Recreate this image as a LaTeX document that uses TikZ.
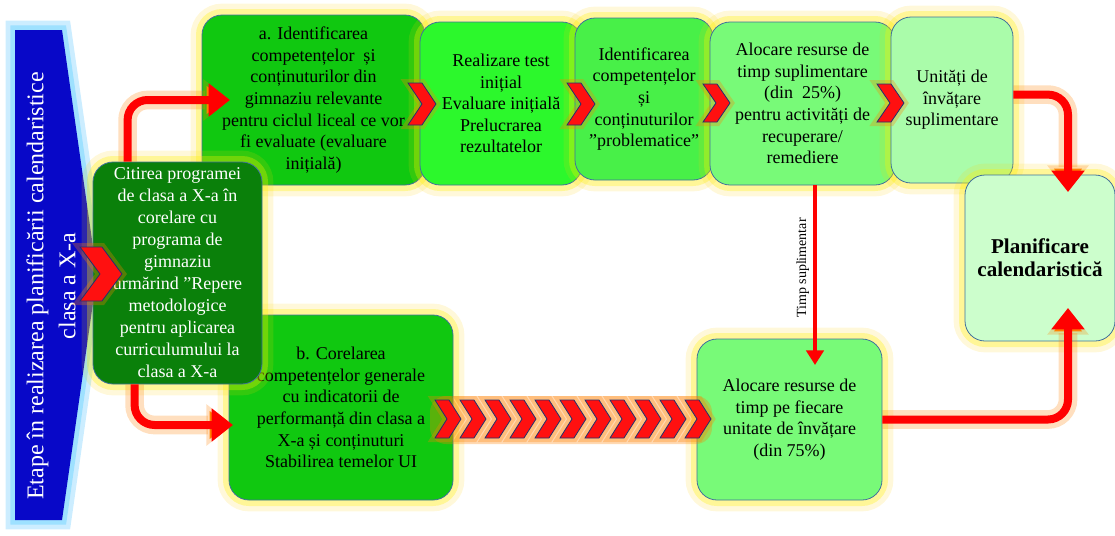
\documentclass[tikz,border=0pt]{standalone}
\usepackage{fontspec}
\setmainfont{Liberation Serif}
\usetikzlibrary{arrows.meta,calc}
\definecolor{cdark}{HTML}{0A800A}
\definecolor{ca}{HTML}{10C810}
\definecolor{creal}{HTML}{2CF82C}
\definecolor{cident}{HTML}{48F048}
\definecolor{caloc}{HTML}{78FA78}
\definecolor{cunit}{HTML}{AAFCAA}
\definecolor{cplan}{HTML}{CCFECC}
\definecolor{cblue}{HTML}{0808C8}
\definecolor{cedge}{HTML}{41719C}
\definecolor{cchev}{HTML}{FF1010}
\definecolor{cchevedge}{HTML}{203070}
\tikzset{
  glow/.style={preaction={draw=yellow!70!orange, draw opacity=0.15, line width=17pt},
               preaction={draw=yellow, draw opacity=0.3, line width=9pt}},
  box/.style={glow, draw=cedge, line width=0.6pt, rounded corners=15pt, align=center,
              inner sep=2pt, font=\fontsize{13.5}{16.2}\selectfont},
  bigarr/.style={draw=red, line width=6pt, rounded corners=15pt,
                 -{Triangle[width=24pt,length=16pt]},
                 preaction={draw=orange, draw opacity=0.25, line width=14pt, -{Triangle[width=30pt,length=20pt]}}},
  thinarr/.style={draw=red, line width=3pt, -{Triangle[width=13pt,length=11pt]}},
  chevfill/.style={fill=cchev, draw=cchevedge, line width=0.6pt,
                   preaction={draw=orange, draw opacity=0.3, line width=6pt}}
}
\newcommand\chevron[5]{%
  \path[chevfill] (#1,#2-#4/2) -- (#1+#3-#5,#2-#4/2) -- (#1+#3,#2) -- (#1+#3-#5,#2+#4/2)
     -- (#1,#2+#4/2) -- (#1+#5,#2) -- cycle;}
\begin{document}
\begin{tikzpicture}[x=0.75pt,y=-0.75pt]
\useasboundingbox (0,0) rectangle (1115,536);
% banner
\path[fill=cblue, preaction={draw=blue!35!cyan!40, draw opacity=0.5, line width=14pt},
      preaction={draw=blue!30!cyan!50, draw opacity=0.6, line width=7pt}]
  (15,30) -- (62,30) -- (97,275) -- (62,520) -- (15,520) -- cycle;
\node[rotate=90, align=center, text=white, font=\fontsize{18}{24}\selectfont] (banner) at (51,286)
  {Etape în realizarea planificării calendaristice\\clasa a X-a};
% boxes
\node[box, fill=ca, minimum width={223*0.75pt}, minimum height={170*0.75pt}] (a) at (313.5,100)
  {a. Identificarea\\competențelor\ \ și\\conținuturilor din\\gimnaziu relevante\\pentru ciclul liceal ce vor\\fi evaluate (evaluare\\inițială)};
\node[box, fill=creal, minimum width={162*0.75pt}, minimum height={163*0.75pt}] (real) at (501,103.5)
  {Realizare test\\inițial\\Evaluare inițială\\Prelucrarea\\rezultatelor};
\node[box, fill=cident, minimum width={138*0.75pt}, minimum height={162*0.75pt}] (ident) at (644,99)
  {Identificarea\\competențelor\\și\\conținuturilor\\”problematice”};
\node[box, fill=caloc, minimum width={185*0.75pt}, minimum height={163*0.75pt}] (aloc1) at (802.5,103.5)
  {Alocare resurse de\\timp suplimentare\\(din\ \ 25\%)\\pentru activități de\\recuperare/\\remediere};
\node[box, fill=cunit, minimum width={122*0.75pt}, minimum height={166*0.75pt}] (unit) at (952,100)
  {Unități de\\învățare\\suplimentare};
\node[box, fill=cplan, minimum width={150*0.75pt}, minimum height={166*0.75pt},
      font=\bfseries\fontsize{15.8}{17.5}\selectfont] (plan) at (1040,258)
  {Planificare\\calendaristică};
\node[box, fill=ca, minimum width={224*0.75pt}, minimum height={185*0.75pt}] (b) at (341,407.5)
  {b. Corelarea\\competențelor generale\\cu indicatorii de\\performanță din clasa a\\X-a și conținuturi\\Stabilirea temelor UI};
\node[box, fill=caloc, minimum width={185*0.75pt}, minimum height={161*0.75pt}] (aloc2) at (789.5,419.5)
  {Alocare resurse de\\timp pe fiecare\\unitate de învățare\\(din 75\%)};
\node[box, fill=cdark, text=white, minimum width={169*0.75pt}, minimum height={222*0.75pt},
      font=\fontsize{13.5}{16.5}\selectfont] (cit) at (177.5,273)
  {Citirea programei\\de clasa a X-a în\\corelare cu\\programa de\\gimnaziu\\urmărind ”Repere\\metodologice\\pentru aplicarea\\curriculumului la\\clasa a X-a};
% chevrons
\chevron{80}{274}{42}{54}{20}
\chevron{408}{104}{28}{42}{14}
\chevron{567}{104}{28}{42}{14}
\chevron{703}{103}{27}{38}{13}
\chevron{877}{103}{27}{38}{13}
\fill[orange, opacity=0.3, rounded corners=12pt] (430,396) rectangle (712,444);
\foreach \i in {0,...,10} {\chevron{435+25*\i}{419}{26}{38}{12}}
% arrows
\coordinate (t1) at (230,100);
\coordinate (t2) at (233,425);
\coordinate (t3) at (1068,192);
\coordinate (t4) at (1068,308);
\coordinate (t5) at (815,365);
\draw[bigarr] ($(cit.north west)+(35,0)$) |- (t1);
\draw[bigarr] ($(cit.south west)+(42,0)$) |- (t2);
\draw[bigarr] ($(unit.north east)+(0,78)$) -| (t3);
\draw[bigarr] (aloc2.east) -| (t4);
\draw[thinarr] ($(aloc1.south)+(12.5,0)$) -- (t5)
  node[pos=0.46, rotate=90, anchor=south, inner sep=3pt, font=\fontsize{10.5}{12}\selectfont] (lbl) {Timp suplimentar};
\end{tikzpicture}
\end{document}
